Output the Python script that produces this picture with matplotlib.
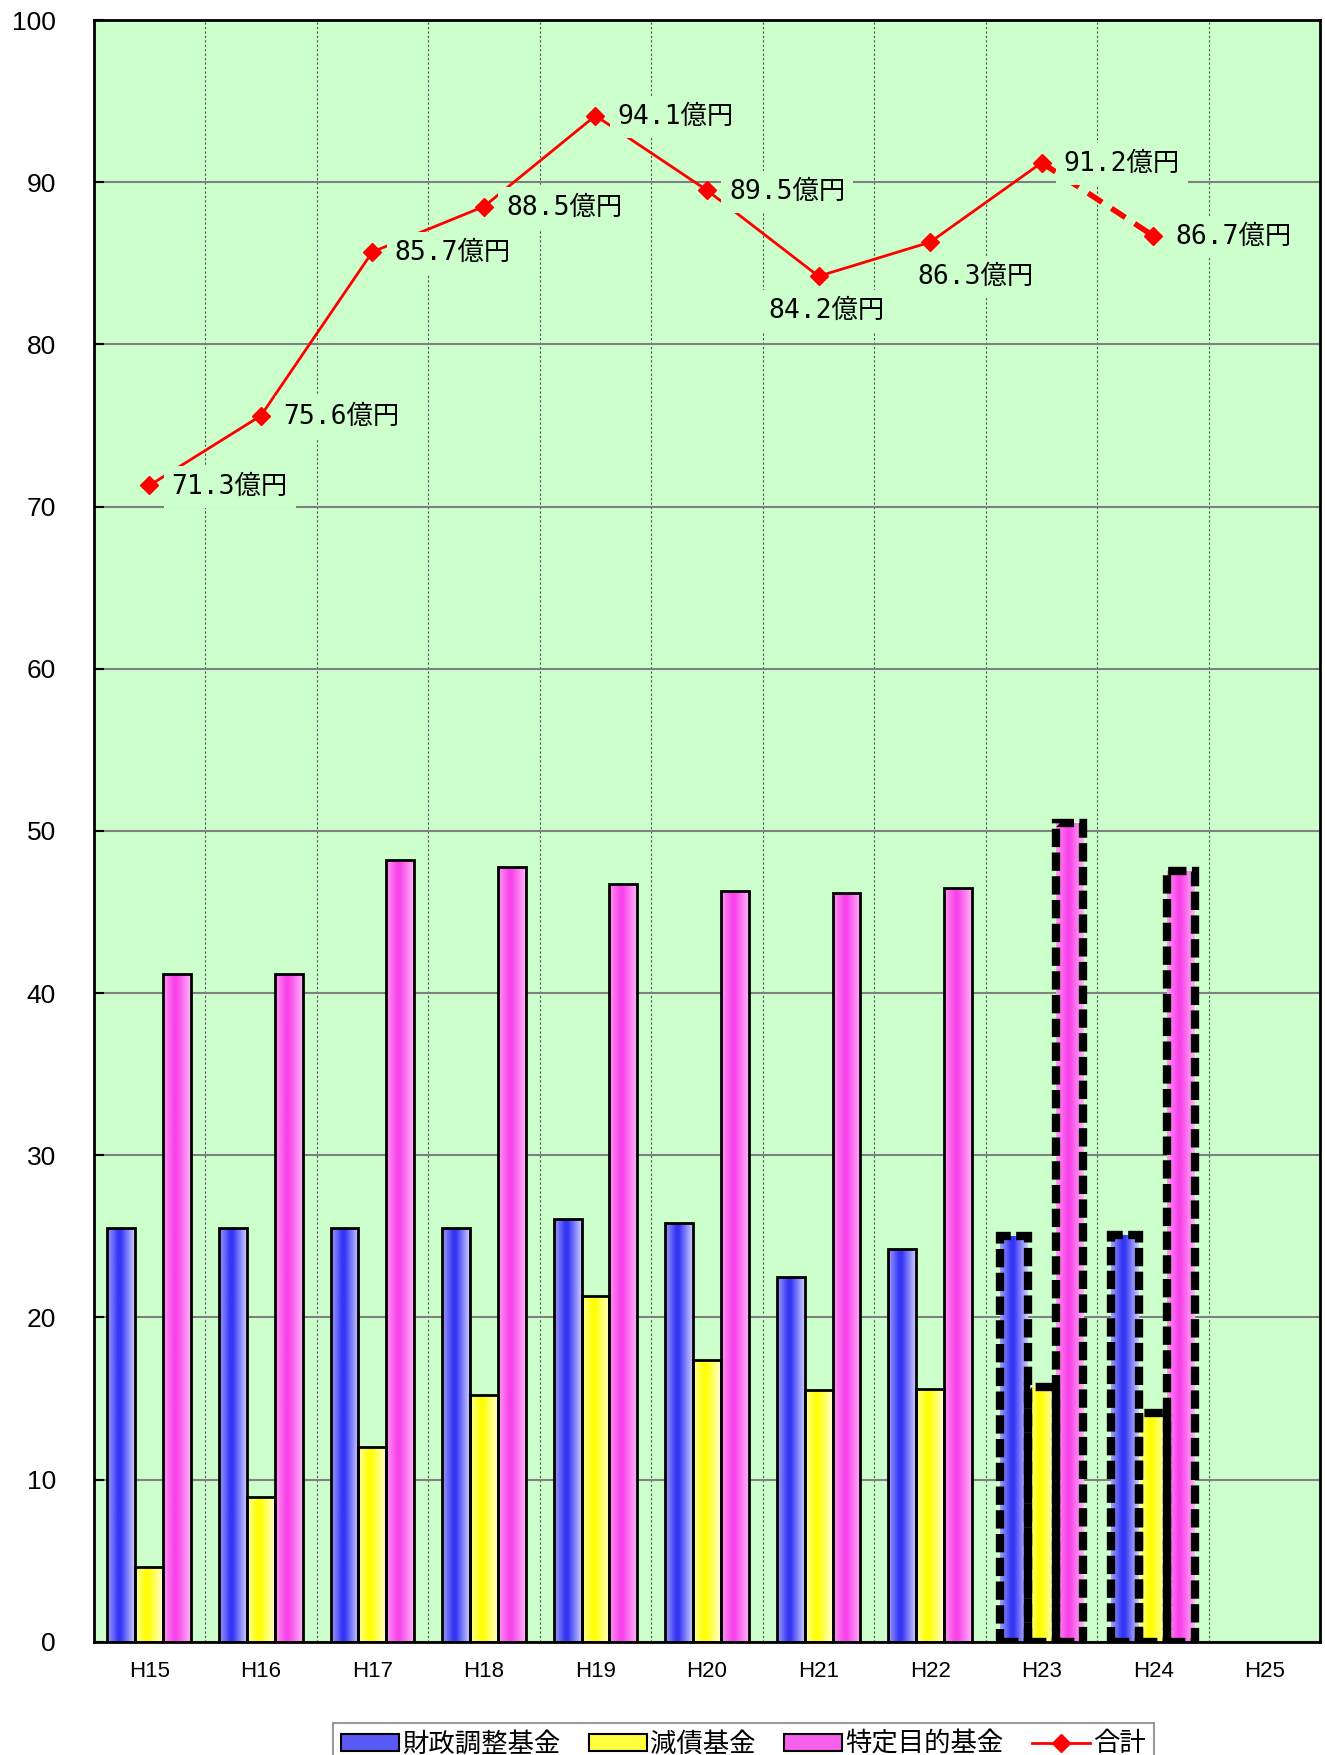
import numpy as np
import matplotlib.pyplot as plt
from matplotlib.colors import LinearSegmentedColormap
from matplotlib.patches import Patch
from matplotlib.lines import Line2D

plt.rcParams['font.family'] = ['Liberation Sans', 'Noto Sans CJK JP', 'DejaVu Sans']

years = ["H15", "H16", "H17", "H18", "H19", "H20", "H21", "H22", "H23", "H24", "H25"]
zaisei = [25.5, 25.5, 25.5, 25.5, 26.1, 25.8, 22.5, 24.2, 25.0, 25.1]
gensai = [4.6, 8.9, 12.0, 15.2, 21.3, 17.4, 15.5, 15.6, 15.7, 14.1]
tokutei = [41.2, 41.2, 48.2, 47.8, 46.7, 46.3, 46.2, 46.5, 50.5, 47.5]
total = [71.3, 75.6, 85.7, 88.5, 94.1, 89.5, 84.2, 86.3, 91.2, 86.7]
estimate_from = 8  # H23 and later drawn dashed

series = [
    ("財政調整基金", zaisei, -0.25, ["#a0a0f8", "#3535f5", "#3535f5", "#cfcfff"], "#5a5af8"),
    ("減債基金", gensai, 0.0, ["#ffffa0", "#ffff00", "#ffff10", "#ffffd0"], "#ffff40"),
    ("特定目的基金", tokutei, 0.25, ["#ff99f2", "#f844ea", "#f844ea", "#ffb4f8"], "#f860ee"),
]

fig = plt.figure(figsize=(13.25, 17.55), dpi=100)
ax = fig.add_axes([0.0706, 0.0645, 0.926, 0.9241])
ax.set_facecolor("#ccffcc")

x = np.arange(len(total))
width = 0.25
grad = np.linspace(0, 1, 256).reshape(1, -1)

for name, vals, off, cols, _ in series:
    cmap = LinearSegmentedColormap.from_list(name, list(zip([0, 0.4, 0.5, 1], cols)))
    bars = ax.bar(x + off, vals, width, facecolor="none", edgecolor="black",
                  linewidth=2, zorder=3)
    for i, b in enumerate(bars):
        x0, y0 = b.get_x(), b.get_y()
        im = ax.imshow(grad, cmap=cmap, aspect="auto", zorder=2,
                       extent=[x0, x0 + b.get_width(), y0, y0 + b.get_height()])
        im.set_clip_path(b)
        if i >= estimate_from:
            b.set_linestyle((0, (2.2, 0.65)))
            b.set_linewidth(6)

# total line
ax.plot(x[:estimate_from + 1], total[:estimate_from + 1], color="red", lw=2, zorder=4)
ax.plot(x[estimate_from:], total[estimate_from:], color="red", lw=4,
        ls=(0, (3, 2)), zorder=4)
ax.plot(x, total, ls="none", marker="D", color="red", ms=9, zorder=5)

offsets = [(16, -1, "left"), (16, -1, "left"), (16, -1, "left"), (16, -1, "left"),
           (16, -1, "left"), (16, -1, "left"), (6, -25, "center"), (33, -25, "center"),
           (16, -1, "left"), (16, -1, "left")]
for xi, v, (dx, dy, ha) in zip(x, total, offsets):
    ax.annotate(f"{v:.1f}億円", (xi, v), xytext=(dx, dy), textcoords="offset points",
                ha=ha, va="center", fontsize=19,
                family=["DejaVu Sans Mono", "Noto Sans CJK JP"],
                zorder=6,
                bbox=dict(boxstyle="square,pad=0.3", fc="#ccffcc", ec="none"))

ax.set_xlim(-0.5, len(years) - 0.5)
ax.set_ylim(0, 100)
ax.set_xticks(np.arange(len(years)))
ax.set_xticklabels(years, fontsize=16)
ax.set_xticks(np.arange(len(years) - 1) + 0.5, minor=True)
ax.set_yticks(np.arange(0, 101, 10))
ax.tick_params(axis="y", labelsize=19, direction="in", length=7, width=1.5, pad=27)
ax.tick_params(axis="x", which="both", length=0, pad=14)
ax.grid(axis="y", color="#808080", lw=1.5, zorder=1)
ax.grid(axis="x", which="minor", color="#505050", lw=0.8, ls=(0, (2, 2)), zorder=1)
ax.set_axisbelow(True)
for s in ax.spines.values():
    s.set_linewidth(2)

handles = [Patch(facecolor=c, edgecolor="black", lw=1.5) for _, _, _, _, c in series]
handles.append(Line2D([], [], color="red", lw=2, marker="D", ms=9))
labels = [s[0] for s in series] + ["合計"]
leg = fig.legend(handles, labels, loc="upper center", bbox_to_anchor=(0.561, 0.026),
                 ncol=4, frameon=True, fancybox=False, edgecolor="#808080",
                 handlelength=2.2, handleheight=0.6, handletextpad=0.1, columnspacing=1.1,
                 borderpad=0.3, prop={"family": ["Noto Sans CJK JP"], "size": 19})
leg.get_frame().set_linewidth(1.5)

fig.savefig("out.png", dpi=100)
